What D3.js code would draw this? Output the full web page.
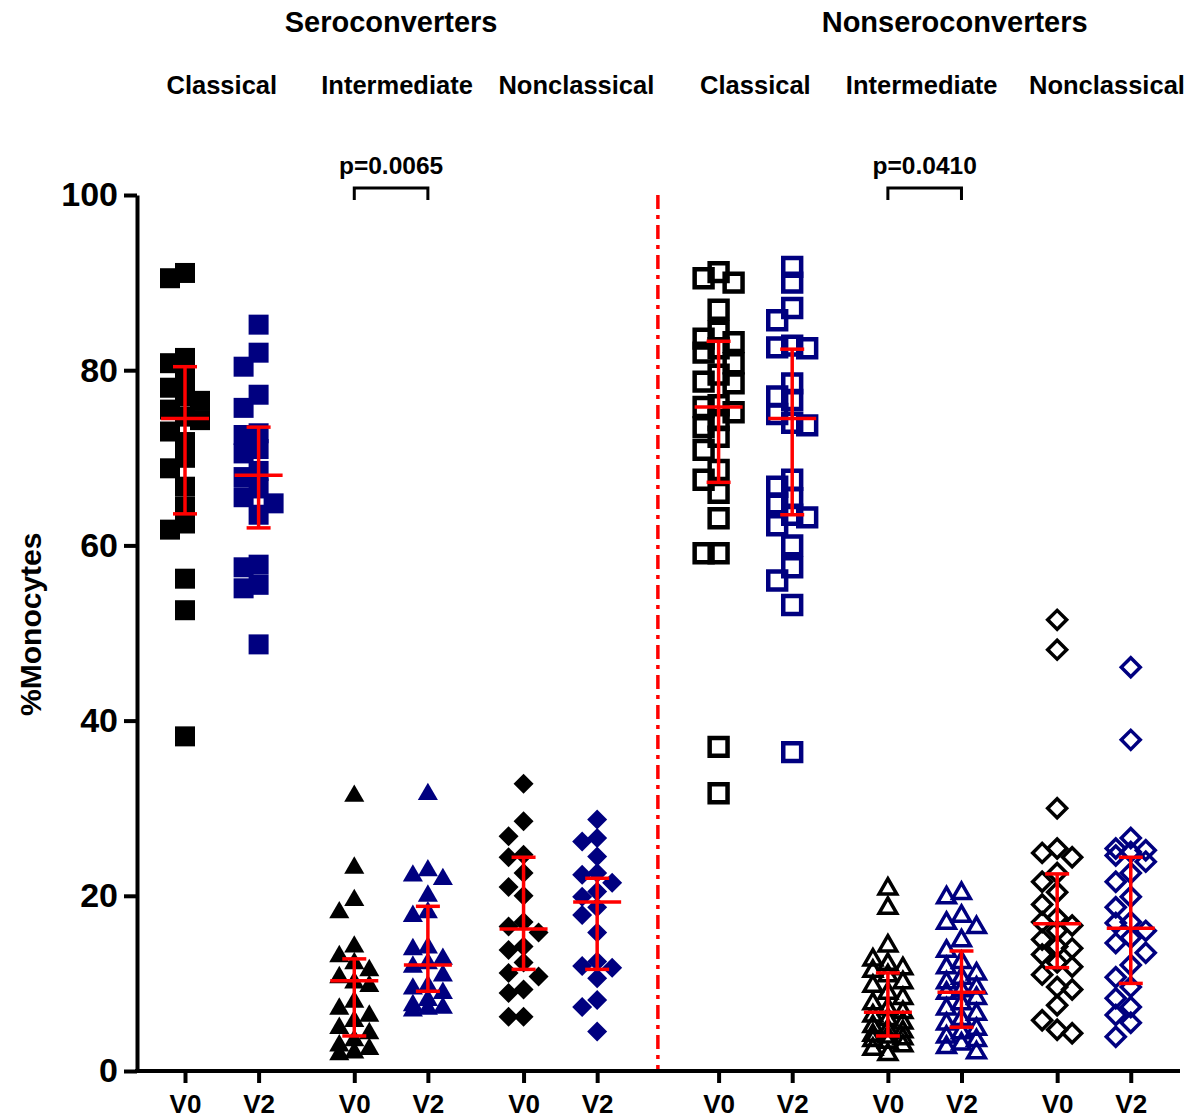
<!DOCTYPE html>
<html>
<head>
<meta charset="utf-8">
<script src="https://cdn.jsdelivr.net/npm/d3@7"></script>
<style>
  body { margin: 0; background: #fff; }
  svg { display: block; }
  text { font-family: "Liberation Sans", Arial, Helvetica, sans-serif; font-weight: bold; fill: #000; }
</style>
</head>
<body>
<svg id="chart" width="1191" height="1120"></svg>
<script>
// ---- labels ----
const cohorts = ["Seroconverters", "Nonseroconverters"];
const subsets = ["Classical", "Intermediate", "Nonclassical"];
const visits = ["V0", "V2"];
const yTicks = [0, 20, 40, 60, 80, 100];
const yTitle = "%Monocytes";
const pLabels = ["p=0.0065", "p=0.0410"]; // V0 vs V2, intermediate subset, per cohort

// ---- % monocytes per participant ----
const seroClassicalV0 = [91.1, 90.5, 81.4, 80.8, 79.2, 78.0, 77.0, 76.5, 75.5, 74.7, 74.3, 73.0, 71.8, 70.0, 68.8, 66.7, 64.4, 62.5, 61.8, 56.2, 52.6, 38.2];
const seroClassicalV2 = [85.2, 82.0, 80.4, 77.2, 75.7, 72.8, 72.6, 71.0, 70.5, 68.5, 67.8, 66.5, 65.5, 64.8, 63.5, 57.8, 57.5, 55.5, 55.1, 48.7];
const seroIntermediateV0 = [31.5, 23.3, 19.6, 18.2, 14.3, 13.2, 12.4, 11.6, 10.8, 10.2, 9.8, 8.0, 7.2, 6.4, 5.8, 5.0, 4.4, 3.6, 3.0, 2.6, 2.2, 2.0];
const seroIntermediateV2 = [31.7, 23.0, 22.4, 22.0, 20.1, 18.2, 17.8, 14.2, 14.0, 12.9, 12.4, 12.0, 11.0, 9.8, 9.5, 9.0, 8.2, 7.6, 7.3, 7.2, 7.0];
const seroNonclassicalV0 = [32.8, 28.5, 26.8, 24.7, 24.4, 22.6, 21.0, 20.0, 17.0, 16.5, 15.8, 14.2, 13.8, 12.4, 11.2, 10.8, 9.3, 8.9, 6.2, 6.2];
const seroNonclassicalV2 = [28.7, 26.6, 26.2, 24.5, 22.6, 22.4, 21.5, 20.5, 19.9, 18.7, 17.8, 15.8, 12.5, 12.0, 11.8, 10.6, 8.1, 7.3, 4.5];
const nonClassicalV0 = [91.2, 90.5, 90.0, 86.9, 84.4, 83.6, 83.2, 82.5, 82.0, 80.8, 79.5, 78.7, 78.5, 76.0, 75.8, 75.2, 74.3, 73.5, 72.4, 70.9, 68.6, 67.5, 66.0, 63.1, 59.1, 59.1, 37.0, 31.7];
const nonClassicalV2 = [91.8, 90.0, 87.1, 85.7, 82.8, 82.6, 82.5, 78.5, 77.0, 76.6, 75.0, 74.0, 73.7, 67.5, 66.7, 65.4, 64.8, 63.5, 63.2, 62.3, 60.0, 57.5, 56.0, 53.2, 36.4];
const nonIntermediateV0 = [20.9, 18.7, 14.4, 12.8, 12.3, 11.8, 11.5, 11.0, 10.2, 9.8, 9.0, 8.4, 7.8, 7.2, 6.8, 6.4, 6.0, 5.6, 5.2, 4.8, 4.6, 4.2, 4.0, 3.8, 3.6, 3.4, 3.0, 2.6, 2.0];
const nonIntermediateV2 = [20.4, 19.9, 17.8, 17.0, 16.5, 15.0, 13.8, 12.5, 11.9, 11.2, 10.7, 10.2, 9.6, 9.3, 9.0, 8.4, 7.8, 7.2, 6.6, 6.0, 5.5, 4.9, 4.5, 4.0, 3.6, 3.2, 2.8, 2.2];
const nonNonclassicalV0 = [51.5, 48.1, 30.0, 25.4, 24.9, 24.4, 22.6, 21.6, 20.4, 19.0, 17.5, 17.0, 16.6, 16.0, 15.0, 14.2, 14.0, 13.3, 12.4, 11.9, 11.0, 9.6, 9.3, 7.5, 5.8, 4.7, 4.3];
const nonNonclassicalV2 = [46.1, 37.8, 26.6, 25.4, 25.2, 25.0, 24.6, 23.9, 22.6, 21.6, 19.9, 18.7, 17.0, 16.9, 16.0, 15.2, 14.6, 13.5, 12.1, 10.7, 9.6, 8.3, 7.3, 6.4, 5.5, 3.9];

// ---- median and interquartile range per series (same order as below) ----
const medians = [74.5, 68.0, 10.3, 12.1, 16.2, 19.3, 75.8, 74.5, 6.7, 9.0, 16.8, 16.3];
const lowerQ  = [63.6, 62.0, 4.0, 9.1, 11.6, 11.6, 67.2, 63.5, 4.0, 5.0, 11.8, 10.0];
const upperQ  = [80.4, 73.5, 12.8, 18.8, 24.4, 22.0, 83.3, 82.4, 11.2, 13.7, 22.5, 24.4];

const seriesValues = [
  seroClassicalV0, seroClassicalV2, seroIntermediateV0, seroIntermediateV2, seroNonclassicalV0, seroNonclassicalV2,
  nonClassicalV0, nonClassicalV2, nonIntermediateV0, nonIntermediateV2, nonNonclassicalV0, nonNonclassicalV2
];

const series = seriesValues.map((values, i) => ({
  cohort: Math.floor(i / 6),
  subset: Math.floor(i / 2) % 3,
  visit: i % 2,
  values,
  median: medians[i], lo: lowerQ[i], hi: upperQ[i]
}));

// ---- layout ----
const svg = d3.select("#chart");
const axisX = 137, axisEndX = 1180;

const y = d3.scaleLinear().domain([0, 100]).range([1071, 195]);

// horizontal slot of each column: pairs of visits, groups spaced apart, wider gap between cohorts
const groupSpan = 2.3, cohortGap = 0.35;
const groupCenter = (c, s) => (c * 3 + s) * groupSpan + (c > 0 ? cohortGap : 0);
const slotOf = d => groupCenter(d.cohort, d.subset) + (d.visit === 0 ? -0.5 : 0.5);
const x = d3.scaleLinear().domain([-0.5, 0.5]).range([185, 258.6]);

const colors = ["#000000", "#000080"];
const red = "#ff0000";

// ---- points (column scatter) ----
function swarmOffsets(values, step, gap) {
  const order = d3.range(values.length).sort((a, b) => values[b] - values[a]);
  const placed = [];
  const off = new Array(values.length);
  for (const i of order) {
    const py = y(values[i]);
    let best = 0, bestD = -1;
    for (const c of [0, -1, 1]) {
      const inCol = placed.filter(p => p.c === c);
      const dist = inCol.length ? d3.min(inCol, p => Math.abs(p.py - py)) : Infinity;
      if (dist >= gap) { best = c; bestD = dist; break; }
      if (dist > bestD) { bestD = dist; best = c; }
    }
    placed.push({ c: best, py });
    off[i] = best * step;
  }
  return off;
}

const symbolGen = {
  filled: [
    d3.symbol(d3.symbolSquare, 400),
    d3.symbol(d3.symbolTriangle, 175),
    d3.symbol(d3.symbolSquare, 200)
  ],
  open: [
    d3.symbol(d3.symbolSquare, 320),
    d3.symbol(d3.symbolTriangle, 135),
    d3.symbol(d3.symbolSquare, 180)
  ]
};
const strokeW = [4.5, 3.5, 3.5];

const pointLayer = svg.append("g");
series.forEach(s => {
  const cx = x(slotOf(s));
  const offs = swarmOffsets(s.values, 15, 15);
  const open = s.cohort === 1;
  const gen = (open ? symbolGen.open : symbolGen.filled)[s.subset];
  const rot = s.subset === 2 ? " rotate(45)" : "";
  pointLayer.append("g").selectAll("path")
    .data(s.values)
    .join("path")
    .attr("d", gen())
    .attr("transform", (v, i) => `translate(${cx + offs[i]},${y(v) + (s.subset === 1 ? 1 : 0)})${rot}`)
    .attr("fill", open ? "none" : colors[s.visit])
    .attr("stroke", open ? colors[s.visit] : "none")
    .attr("stroke-width", open ? strokeW[s.subset] : 0)
    .attr("stroke-linejoin", "miter");
});

// ---- median with interquartile range ----
const errLayer = svg.append("g").attr("stroke", red).attr("stroke-width", 3.5).attr("fill", "none");
series.forEach(s => {
  const cx = x(slotOf(s));
  errLayer.append("line").attr("x1", cx).attr("x2", cx).attr("y1", y(s.lo)).attr("y2", y(s.hi));
  errLayer.append("line").attr("x1", cx - 12).attr("x2", cx + 12).attr("y1", y(s.lo)).attr("y2", y(s.lo));
  errLayer.append("line").attr("x1", cx - 12).attr("x2", cx + 12).attr("y1", y(s.hi)).attr("y2", y(s.hi));
  errLayer.append("line").attr("x1", cx - 24).attr("x2", cx + 24).attr("y1", y(s.median)).attr("y2", y(s.median));
});

// ---- cohort divider ----
const dividerX = x((groupCenter(0, 2) + 0.5 + groupCenter(1, 0) - 0.5) / 2);
svg.append("line")
  .attr("x1", dividerX).attr("x2", dividerX)
  .attr("y1", y(100)).attr("y2", y(0))
  .attr("stroke", red).attr("stroke-width", 3.5)
  .attr("stroke-dasharray", "14,6,4,6");

// ---- axes ----
const yAxis = d3.axisLeft(y).tickValues(yTicks).tickSize(13).tickSizeOuter(0).tickPadding(6);
const gy = svg.append("g").attr("transform", `translate(${axisX},0)`).call(yAxis);
gy.select(".domain").attr("stroke", "#000").attr("stroke-width", 4);
gy.selectAll(".tick line").attr("stroke", "#000").attr("stroke-width", 4);
gy.selectAll(".tick text").style("font-size", "34px").style("font-weight", "bold")
  .style("font-family", '"Liberation Sans", Arial, sans-serif').attr("fill", "#000");

const xAxis = d3.axisBottom(x)
  .tickValues(series.map(slotOf))
  .tickFormat((d, i) => visits[series[i].visit])
  .tickSize(12).tickSizeOuter(0).tickPadding(12);
const gx = svg.append("g").attr("transform", `translate(0,${y(0)})`).call(xAxis);
gx.select(".domain").remove();
gx.selectAll(".tick line").attr("stroke", "#000").attr("stroke-width", 4);
gx.selectAll(".tick text").style("font-size", "26px").style("font-weight", "bold")
  .style("font-family", '"Liberation Sans", Arial, sans-serif').attr("fill", "#000");
svg.append("line")
  .attr("x1", axisX - 2).attr("x2", axisEndX)
  .attr("y1", y(0)).attr("y2", y(0))
  .attr("stroke", "#000").attr("stroke-width", 4);

// ---- axis title ----
svg.append("text")
  .attr("transform", `translate(41,${y(51)}) rotate(-90)`)
  .attr("text-anchor", "middle")
  .style("font-size", "30px")
  .text(yTitle);

// ---- headers ----
const cohortCenters = [
  (x(groupCenter(0, 0) - 0.5) + x(groupCenter(0, 2) + 0.5)) / 2,
  (x(groupCenter(1, 0) - 0.5) + x(groupCenter(1, 2) + 0.5)) / 2 + 30
];
svg.selectAll("text.cohort")
  .data(cohorts)
  .join("text")
  .attr("class", "cohort")
  .attr("x", (d, i) => cohortCenters[i])
  .attr("y", 32)
  .attr("text-anchor", "middle")
  .style("font-size", "29px")
  .text(d => d);

// subset headings sit slightly right of the later groups
const headerNudge = [0, 6, 16];
const subsetHeaders = [];
cohorts.forEach((c, ci) => subsets.forEach((s, si) => subsetHeaders.push({
  label: s,
  cx: x(groupCenter(ci, si)) + (ci === 0 ? headerNudge[si] : [0, -3, 13][si])
})));
svg.selectAll("text.subset")
  .data(subsetHeaders)
  .join("text")
  .attr("class", "subset")
  .attr("x", d => d.cx)
  .attr("y", 94)
  .attr("text-anchor", "middle")
  .style("font-size", "25.5px")
  .text(d => d.label);

// ---- significance brackets (intermediate V0 vs V2) ----
pLabels.forEach((p, ci) => {
  const x0 = x(groupCenter(ci, 1) - 0.5), x1 = x(groupCenter(ci, 1) + 0.5);
  const top = 188, leg = 200;
  svg.append("path")
    .attr("d", `M${x0},${leg}V${top}H${x1}V${leg}`)
    .attr("fill", "none").attr("stroke", "#000").attr("stroke-width", 3);
  svg.append("text")
    .attr("x", (x0 + x1) / 2).attr("y", 174)
    .attr("text-anchor", "middle")
    .style("font-size", "24.5px")
    .text(p);
});
</script>
</body>
</html>
